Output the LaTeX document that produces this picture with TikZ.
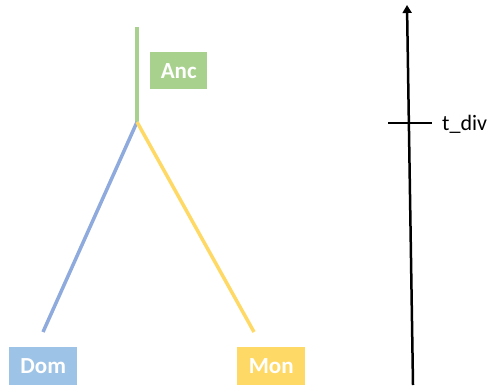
\documentclass[tikz,border=0pt]{standalone}
\usepackage{fontspec}
\setmainfont{Carlito}
\usetikzlibrary{arrows.meta}
\definecolor{ancg}{HTML}{A9D18E}
\definecolor{domb}{HTML}{9DC3E6}
\definecolor{domline}{HTML}{8FAADC}
\definecolor{mony}{HTML}{FFD966}
\tikzset{
  lbl/.style={fill=#1, text=white, font=\fontsize{23}{26}\selectfont\bfseries, inner sep=0pt, anchor=north west},
  branch/.style={line width=3.5pt, draw=#1},
}
\begin{document}
\begin{tikzpicture}[x=1pt,y=-1pt]
\useasboundingbox (0,0) rectangle (494,385);
% labels
\node[lbl=ancg, minimum width=57pt, minimum height=37pt] (anc) at (150,52) {Anc};
\node[lbl=domb, minimum width=68pt, minimum height=38pt] (dom) at (9,347) {Dom};
\node[lbl=mony, minimum width=68pt, minimum height=38pt] (mon) at (237,347) {Mon};
% tree
\coordinate (top) at (137,27);
\coordinate (split) at (137,122);
\coordinate (dend) at (43,332);
\coordinate (mend) at (254,332);
\draw[branch=ancg] (top) -- (split);
\draw[branch=domline] (split) -- (dend);
\draw[branch=mony] (split) -- (mend);
% time axis
\coordinate (tbot) at (413,385);
\coordinate (ttop) at (407,5);
\draw[line width=2.5pt, -{Triangle[length=8pt,width=9pt]}] (tbot) -- (ttop);
\coordinate (tl) at (388,123);
\coordinate (tr) at (432,123);
\draw[line width=2.5pt] (tl) -- (tr);
\node[anchor=west, inner sep=0pt, font=\fontsize{22}{26}\selectfont] (tdiv) at (442,124) {t\_div};
\end{tikzpicture}
\end{document}
